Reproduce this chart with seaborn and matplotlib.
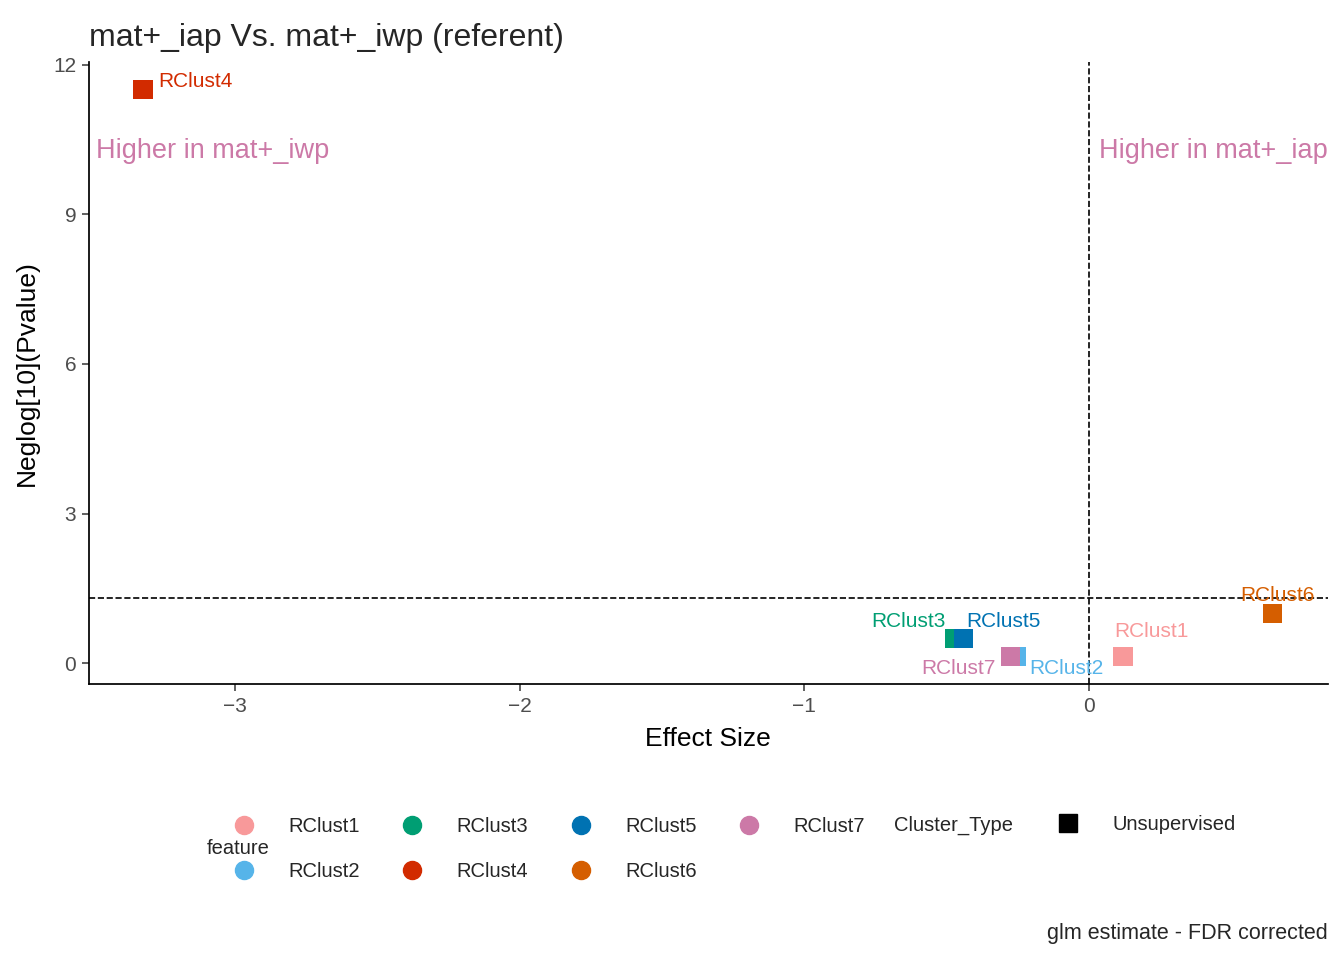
import matplotlib
matplotlib.use("Agg")
import matplotlib.pyplot as plt
import seaborn as sns
import pandas as pd
from matplotlib.lines import Line2D

features = ["RClust1", "RClust2", "RClust3", "RClust4", "RClust5", "RClust6", "RClust7"]
effect = [0.12, -0.253, -0.471, -3.324, -0.44, 0.644, -0.274]
neglogp = [0.14, 0.14, 0.50, 11.5, 0.50, 1.0, 0.14]
colors = ["#F8999A", "#56B4E9", "#009E73", "#D22B00", "#0072B2", "#D55E00", "#CC79A7"]
# label offsets (points)
offsets = [(-6, 18, "left"), (9, -9, "left"), (-6.5, 12, "right"), (11, 6, "left"),
           (2, 12, "left"), (4, 13, "center"), (-11, -9, "right")]

df = pd.DataFrame({"feature": features, "effect": effect, "neglogp": neglogp})
pal = dict(zip(features, colors))

sns.set_theme(style="white")
plt.rcParams["font.family"] = ["Liberation Sans", "DejaVu Sans"]
fig = plt.figure(figsize=(13.44, 9.6), dpi=100)
ax = fig.add_axes([0.066, 0.2875, 0.922, 0.6475])

sns.scatterplot(data=df, x="effect", y="neglogp", hue="feature", palette=pal,
                marker="s", s=190, edgecolor="none", legend=False, ax=ax)
for f, x, y, (dx, dy, ha) in zip(features, effect, neglogp, offsets):
    ax.annotate(f, (x, y), xytext=(dx, dy), textcoords="offset points",
                ha=ha, va="center", fontsize=15, color=pal[f])

ax.axhline(1.301, ls="--", color="black", lw=1.2)
ax.axvline(0, ls="--", color="black", lw=1.2)
ax.set_xlim(-3.515, 0.84)
ax.set_ylim(-0.42, 12.05)
ax.set_xticks([-3, -2, -1, 0])
ax.set_yticks([0, 3, 6, 9, 12])
ax.tick_params(labelsize=15, colors="#4D4D4D", length=5, left=True, bottom=True, pad=4)
for s in ["top", "right"]:
    ax.spines[s].set_visible(False)
for s in ["left", "bottom"]:
    ax.spines[s].set_color("black")
ax.set_xlabel("Effect Size", fontsize=19, color="black", labelpad=8)
ax.set_ylabel("Neglog[10](Pvalue)", fontsize=19, color="black", labelpad=10)
ax.set_title("mat+_iap Vs. mat+_iwp (referent)", fontsize=23, loc="left", pad=12)

ax.text(0.006, 0.858, "Higher in mat+_iwp", transform=ax.transAxes, fontsize=19.5,
        color="#CC79A7", va="center", ha="left")
ax.text(1.0, 0.858, "Higher in mat+_iap", transform=ax.transAxes, fontsize=19.5,
        color="#CC79A7", va="center", ha="right")

handles = [Line2D([], [], marker="o", ls="", color=c, markersize=13) for c in colors]
leg = fig.legend(handles, features, ncol=4, loc="center", bbox_to_anchor=(0.405, 0.116),
                 frameon=False, fontsize=14.5, columnspacing=1.6, labelspacing=1.3,
                 handletextpad=1.2)
fig.text(0.177, 0.116, "feature", fontsize=14.5, ha="center", va="center")
fig.text(0.665, 0.14, "Cluster_Type", fontsize=14.5, va="center")
leg2 = fig.legend([Line2D([], [], marker="s", ls="", color="black", markersize=13)],
                  ["Unsupervised"], loc="center left", bbox_to_anchor=(0.766, 0.141),
                  frameon=False, fontsize=14.5, handletextpad=1.2)
fig.text(0.988, 0.028, "glm estimate - FDR corrected", fontsize=15.5, ha="right", va="center")

fig.savefig("out.png", dpi=100)
